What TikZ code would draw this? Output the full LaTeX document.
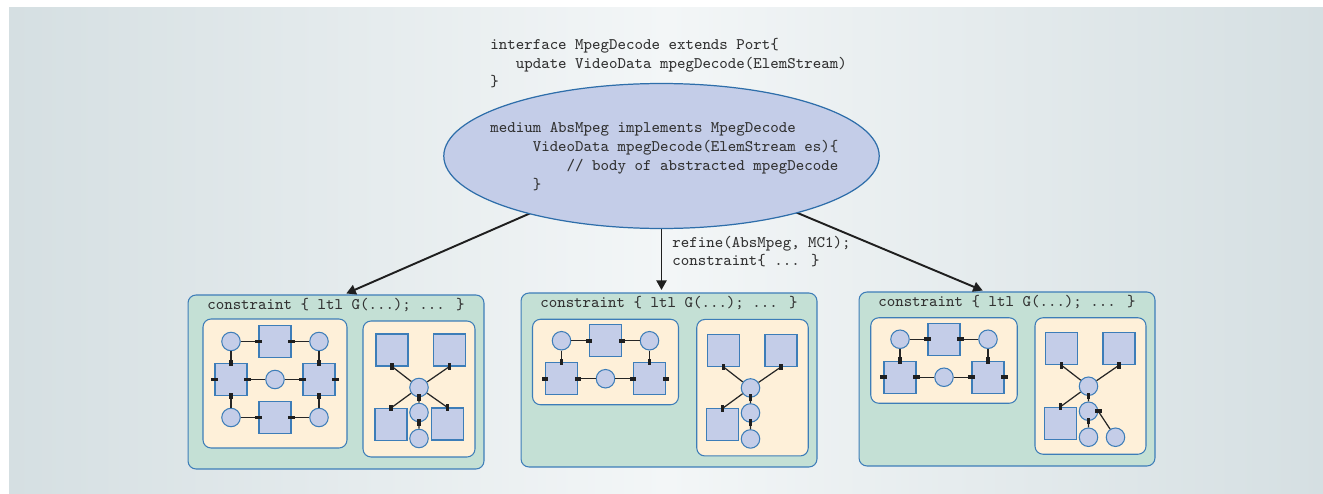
\documentclass[tikz,border=0pt]{standalone}
\usepackage{fontspec}
\usetikzlibrary{shapes.geometric,arrows.meta,calc}

\definecolor{bgedge}{RGB}{213,223,226}
\definecolor{bgmid}{RGB}{243,246,247}
\definecolor{nodefill}{RGB}{196,205,232}
\definecolor{nodeblue}{RGB}{61,125,184}
\definecolor{ellblue}{RGB}{46,110,170}
\definecolor{boxgreen}{RGB}{196,224,213}
\definecolor{cream}{RGB}{254,240,217}
\definecolor{ink}{RGB}{50,50,50}

\tikzset{
  mono/.style={font=\ttfamily\fontsize{9.2}{10.5}\selectfont, text=ink, align=left, inner sep=0pt},
  sq/.style={draw=nodeblue, fill=nodefill, line width=0.6pt, minimum size=0.64cm, inner sep=0pt},
  dot/.style={circle, draw=nodeblue, fill=nodefill, line width=0.6pt, minimum size=0.37cm, inner sep=0pt},
  hport/.style={fill=black!88, minimum width=0.13cm, minimum height=0.075cm, inner sep=0pt},
  vport/.style={fill=black!88, minimum width=0.075cm, minimum height=0.13cm, inner sep=0pt},
  wire/.style={draw=black!85, line width=0.7pt},
  arr/.style={draw=black!88, line width=1.1pt, shorten >=0.05cm, -{Triangle[length=0.19cm,width=0.2cm]}},
  cbox/.style={draw=nodeblue, fill=boxgreen, rounded corners=0.16cm, line width=0.6pt, minimum width=5.92cm, minimum height=3.48cm},
  panel/.style={draw=nodeblue, fill=cream, rounded corners=0.16cm, line width=0.6pt, inner sep=0pt},
  % ring of squares and circles, #1 = number of rows (2 or 3)
  pics/ring/.style={code={
    \node[dot] (-tl) at (-44,0) {};
    \node[sq]  (-tm) at (0,0) {};
    \node[dot] (-tr) at (44,0) {};
    \node[sq]  (-ml) at (-44,38) {};
    \node[dot] (-m)  at (0,38) {};
    \node[sq]  (-mr) at (44,38) {};
    \draw[wire] (-tl) -- (-tm) (-tm) -- (-tr) (-tl) -- (-ml) (-tr) -- (-mr)
      (-ml) -- (-m) (-m) -- (-mr);
    \node[hport] (-p1) at (-tm.west) {};
    \node[hport] (-p2) at (-tm.east) {};
    \node[vport] (-p3) at (-ml.north) {};
    \node[vport] (-p4) at (-mr.north) {};
    \node[hport] (-p5) at (-ml.east) {};
    \node[hport] (-p6) at (-mr.west) {};
    \node[hport] (-p7) at (-ml.west) {};
    \node[hport] (-p8) at (-mr.east) {};
    \ifnum#1>2
      \node[dot] (-bl) at (-44,76) {};
      \node[sq]  (-bm) at (0,76) {};
      \node[dot] (-br) at (44,76) {};
      \draw[wire] (-ml) -- (-bl) (-mr) -- (-br) (-bl) -- (-bm) (-bm) -- (-br);
      \node[vport] (-p9) at (-ml.south) {};
      \node[vport] (-p10) at (-mr.south) {};
      \node[hport] (-p11) at (-bm.west) {};
      \node[hport] (-p12) at (-bm.east) {};
    \fi
  }},
  % star around a hub, #1 = variant
  pics/star/.style={code={
    \node[dot] (-hub) at (0,0) {};
    \node[sq]  (-tl) at (-27,-37.5) {};
    \node[sq]  (-tr) at (30.5,-37.5) {};
    \node[sq]  (-bl) at (-28,37) {};
    \node[dot] (-c2) at (0,25) {};
    \node[dot] (-c3) at (0,51) {};
    \draw[wire] (-hub) -- (-tl.south) (-hub) -- (-tr.south) (-hub) -- (-bl.north)
      (-hub) -- (-c2) (-c2) -- (-c3);
    \node[vport] (-p1) at (-tl.south) {};
    \node[vport] (-p2) at (-tr.south) {};
    \node[vport] (-p3) at (-bl.north) {};
    \node[vport] (-p4) at (-hub.south) {};
    \node[vport] (-p5) at (-c2.south) {};
    \ifnum#1=1
      \node[sq] (-br) at (28.5,36.5) {};
      \draw[wire] (-hub) -- (-br.north);
      \node[vport] (-p6) at (-br.north) {};
    \fi
    \ifnum#1=3
      \node[dot] (-c4) at (27,51) {};
      \draw[wire] (-c2.east) -- (-c4);
      \node[hport] (-p6) at (-c2.east) {};
    \fi
  }},
}

\begin{document}
\begin{tikzpicture}[x=0.02cm, y=-0.02cm]
\useasboundingbox (0,0) rectangle (1323,494);
\fill[white] (0,0) rectangle (1323,494);
\shade[left color=bgedge, right color=bgedge, middle color=bgmid] (9,7) rectangle (1323,494);

% three refinements
\node[cbox] (b1) at (336,382) {};
\node[cbox] (b2) at (669,380) {};
\node[cbox] (b3) at (1007,379) {};
\node[mono] (t1) at ($(b1.north)+(0,11)$) {constraint \{ ltl G(...); ... \}};
\node[mono] (t2) at ($(b2.north)+(0,11)$) {constraint \{ ltl G(...); ... \}};
\node[mono] (t3) at ($(b3.north)+(0,11)$) {constraint \{ ltl G(...); ... \}};

\node[panel, minimum width=2.88cm, minimum height=2.58cm] (b1l) at (275,383.5) {};
\node[panel, minimum width=2.24cm, minimum height=2.72cm] (b1r) at (419,389) {};
\node[panel, minimum width=2.92cm, minimum height=1.71cm] (b2l) at (605.5,362) {};
\node[panel, minimum width=2.23cm, minimum height=2.73cm] (b2r) at (752.5,387.7) {};
\node[panel, minimum width=2.93cm, minimum height=1.71cm] (b3l) at (944,360.5) {};
\node[panel, minimum width=2.22cm, minimum height=2.73cm] (b3r) at (1090.5,386) {};

\pic (g1) at ($(b1l.north)+(0,23)$) {ring=3};
\pic (s1) at ($(b1r.north)+(0,67)$) {star=1};
\pic (g2) at ($(b2l.north)+(0,22)$) {ring=2};
\pic (s2) at ($(b2r.north)+(-2,69)$) {star=2};
\pic (g3) at ($(b3l.north)+(0,22)$) {ring=2};
\pic (s3) at ($(b3r.north)+(-2,69)$) {star=3};

% refinement arrows, behind the medium
\coordinate (c) at (661.5,156);
\draw[arr] (c) -- ($(b1.north)+(8,0)$);
\draw[arr] (c) -- node[mono, pos=0.7, anchor=west, xshift=0.2cm] (refine)
  {refine(AbsMpeg, MC1);\\constraint\{ ... \}} (c |- b2.north);
\draw[arr] (c) -- ($(b3.north)+(-22,0)$);

\node[ellipse, draw=ellblue, fill=nodefill, line width=0.7pt, minimum width=8.71cm,
  minimum height=2.9cm, inner sep=0pt] (ell) at (c) {};
\node[mono, anchor=north west, font=\ttfamily\fontsize{9.2}{10.8}\selectfont] (medium) at (490,122)
  {medium AbsMpeg implements MpegDecode\\
   ~~~~~VideoData mpegDecode(ElemStream es)\{\\
   ~~~~~~~~~// body of abstracted mpegDecode\\
   ~~~~~\}};
\node[mono, anchor=north west] (iface) at (490,38)
  {interface MpegDecode extends Port\{\\
   ~~~update VideoData mpegDecode(ElemStream)\\
   \}};
\end{tikzpicture}
\end{document}
